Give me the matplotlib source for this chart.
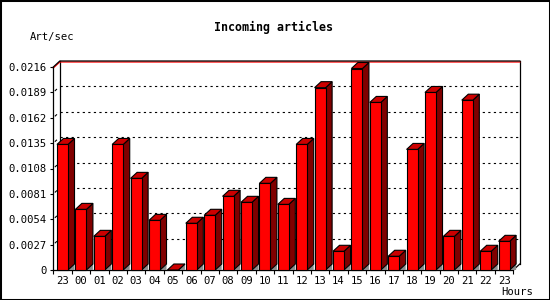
import matplotlib
matplotlib.use("Agg")
import matplotlib.pyplot as plt
from matplotlib.patches import Polygon, Rectangle
import numpy as np

# data
hours = ["23", "00", "01", "02", "03", "04", "05", "06", "07", "08", "09", "10",
         "11", "12", "13", "14", "15", "16", "17", "18", "19", "20", "21", "22", "23"]
rates = [0.01336, 0.00645, 0.00358, 0.01336, 0.00975, 0.00528, 0.0, 0.00497,
         0.00582, 0.00784, 0.00720, 0.00922, 0.00698, 0.01336, 0.01940, 0.00199,
         0.02144, 0.01783, 0.00146, 0.01283, 0.01889, 0.00358, 0.01807, 0.00199,
         0.00305]
y_ticks = [0, 0.0027, 0.0054, 0.0081, 0.0108, 0.0135, 0.0162, 0.0189, 0.0216]
title = "Incoming articles"
y_label = "Art/sec"
x_label = "Hours"

mono = "DejaVu Sans Mono"

fig = plt.figure(figsize=(5.5, 3), dpi=100)
fig.patch.set_facecolor("white")

# front plane of the 3d plot, in pixels: x 53..513, y 67..270
ax = fig.add_axes([53.3 / 550, 30 / 300, 460 / 550, 203 / 300])
n = len(rates)
ymax = y_ticks[-1]
ax.set_xlim(-0.5, n - 0.5)
ax.set_ylim(0, ymax)
ax.patch.set_alpha(0)

# depth of the 3d effect in data units (about 6 px each way)
ddx = 6.5 / (460 / n)
ddy = 6.0 / 203 * ymax
px_y = ymax / 203

for s in ["top", "right"]:
    ax.spines[s].set_visible(False)
for s in ["left", "bottom"]:
    ax.spines[s].set_linewidth(0.9)
    ax.spines[s].set_color("black")

ax.set_yticks(y_ticks)
ax.set_yticklabels(["0" if v == 0 else "%.4f" % v for v in y_ticks])
ax.tick_params(axis="y", direction="out", length=2.5, width=0.8, pad=2,
               labelsize=7.6)
ax.set_xticks(np.arange(-0.5, n, 1.0))
ax.set_xticklabels([])
ax.set_xticks(np.arange(n), minor=True)
ax.set_xticklabels(hours, minor=True)
ax.tick_params(axis="x", which="major", direction="out", length=3.2, width=0.8)
ax.tick_params(axis="x", which="minor", length=0, pad=4.5, labelsize=7.6)
for lab in ax.get_yticklabels() + ax.get_xticklabels(minor=True):
    lab.set_family(mono)

xl, xr = -0.5, n - 0.5

# gridlines on the back wall
for v in y_ticks[1:-1]:
    ax.plot([xl + ddx, xr + ddx], [v + ddy, v + ddy], color="black", lw=0.8,
            linestyle=(0, (2, 3)), zorder=1, clip_on=False)
    ax.plot([xl + ddx * 0.3, xl + ddx * 0.5], [v + ddy * 0.3, v + ddy * 0.5],
            color="black", lw=0.8, zorder=1, clip_on=False)

# back wall frame
top = ymax + ddy
ax.plot([xl + ddx, xl + ddx], [ddy, top], color="black", lw=0.9, zorder=2, clip_on=False)
ax.plot([xr + ddx, xr + ddx], [ddy, top], color="black", lw=0.9, zorder=2, clip_on=False)
ax.plot([xl, xl + ddx, xr + ddx], [ymax - px_y, top - px_y, top - px_y], color="red",
        lw=0.9, zorder=2, clip_on=False)
ax.plot([xl, xl + ddx, xr + ddx], [ymax, top, top], color="black", lw=0.9, zorder=2,
        clip_on=False)
ax.plot([xr, xr + ddx], [0, ddy], color="black", lw=0.9, zorder=2, clip_on=False)

# 3d bars
hw = 0.3
for i, v in enumerate(rates):
    x0, x1 = i - hw, i + hw
    floor = Polygon([(x1, 0), (x1 + ddx, ddy), (x1 + ddx, 0)], closed=True,
                    facecolor="#8c8c8c", edgecolor="none", zorder=3, clip_on=False)
    ax.add_patch(floor)
    side = Polygon([(x1, 0), (x1 + ddx, ddy), (x1 + ddx, v + ddy), (x1, v)], closed=True,
                   facecolor="#800000", edgecolor="black", lw=0.8, zorder=4, clip_on=False)
    topf = Polygon([(x0, v), (x1, v), (x1 + ddx, v + ddy), (x0 + ddx, v + ddy)], closed=True,
                   facecolor="#cc0000", edgecolor="black", lw=0.8, zorder=4, clip_on=False)
    ax.add_patch(side)
    ax.add_patch(topf)
    if v > 0:
        ax.add_patch(Rectangle((x0, 0), 2 * hw, v, facecolor="#ff0000",
                               edgecolor="black", lw=0.8, zorder=5, clip_on=False))

fig.text(274 / 550, 1 - 27 / 300, title, ha="center", va="center",
         family=mono, fontweight="bold", fontsize=8.4)
fig.text(30 / 550, 1 - 37 / 300, y_label, ha="left", va="center",
         family=mono, fontsize=7.6)
fig.text(533 / 550, 1 - 292 / 300, x_label, ha="right", va="center",
         family=mono, fontsize=7.6)

# outer frame of the image
fig.patches.append(Rectangle((0, 0), 1, 1, transform=fig.transFigure, fill=False,
                             edgecolor="black", lw=2.2, zorder=10))

fig.savefig("out.png", dpi=100)
